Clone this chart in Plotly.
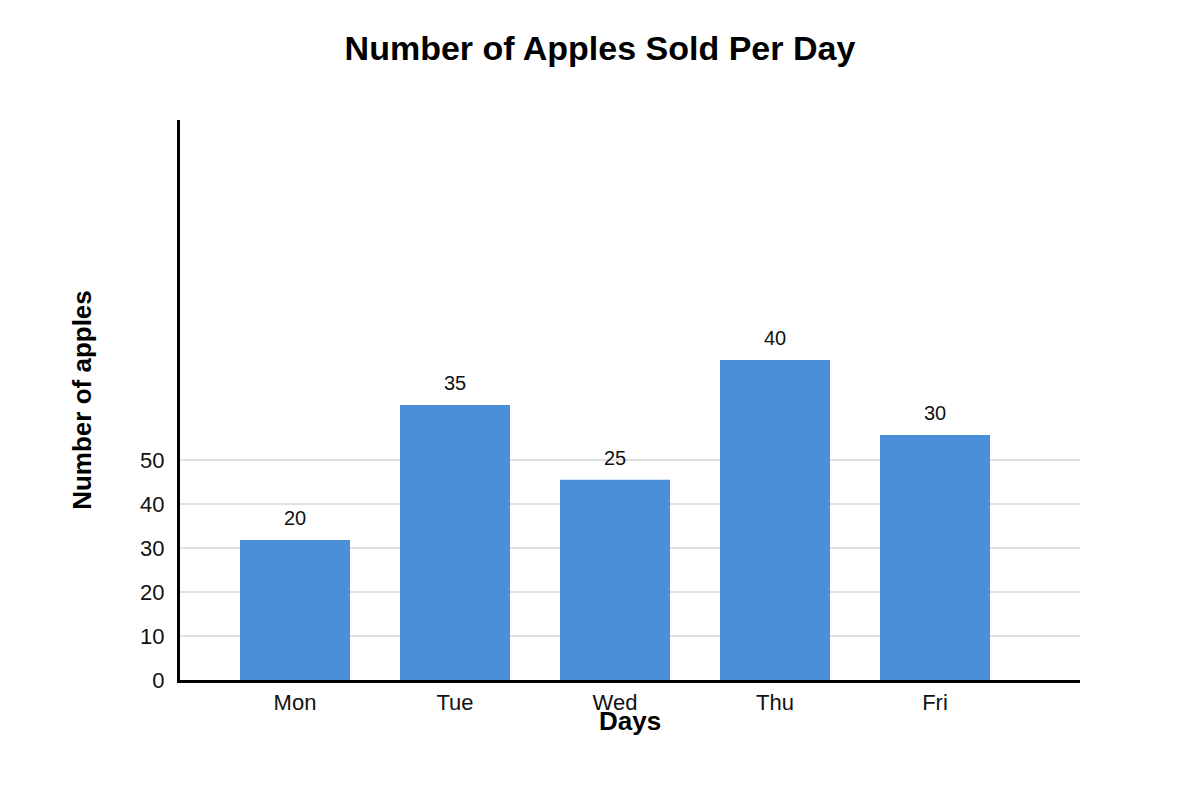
import plotly.graph_objects as go

# day categories
days = ["Mon", "Tue", "Wed", "Thu", "Fri"]
# bar heights as drawn against the y axis
bar_heights = [31.8, 62.5, 45.5, 72.7, 55.7]
# labels printed above each bar
bar_labels = ["20", "35", "25", "40", "30"]
# y ticks shown
y_ticks = [0, 10, 20, 30, 40, 50]

fig = go.Figure(go.Bar(
    x=days,
    y=bar_heights,
    marker=dict(color="#4a8fd7", line=dict(width=0)),
    width=0.6875,
    hoverinfo="skip"))

for d, h, lab in zip(days, bar_heights, bar_labels):
    fig.add_annotation(x=d, y=h, text=lab, showarrow=False,
                       yshift=22, font=dict(size=20, color="#111"))

# x axis title sits tight under the tick labels (overlaps "Wed" like the original)
fig.add_annotation(x=0.5, y=0, xref="paper", yref="paper", text="<b>Days</b>",
                   showarrow=False, yanchor="middle", yshift=-41,
                   font=dict(size=26, color="black"))

# page body adds 8px, so margins are shifted to compensate
fig.update_layout(
    width=1200, height=800,
    margin=dict(l=172, r=128, t=112, b=128),
    paper_bgcolor="white", plot_bgcolor="white",
    font=dict(family="Liberation Sans, Arial, sans-serif", color="#111"),
    title=dict(text="<b>Number of Apples Sold Per Day</b>", x=0.4933, xanchor="center",
               y=0.95, yanchor="middle", font=dict(size=34, color="black")),
    showlegend=False,
    xaxis=dict(range=[-0.71875, 4.90625], showline=True, linecolor="black", linewidth=3,
               ticks="", tickfont=dict(size=22), showgrid=False, ticklabelstandoff=1),
    yaxis=dict(range=[0, 127.27], tickvals=y_ticks, showline=True, linecolor="black",
               linewidth=3, ticks="", tickfont=dict(size=22), gridcolor="#e0e0e0",
               gridwidth=2, zeroline=False, ticklabelstandoff=8,
               title=dict(text="<b>Number of apples</b>", font=dict(size=26, color="black"),
                          standoff=42)),
)

fig.write_html("out.html")
